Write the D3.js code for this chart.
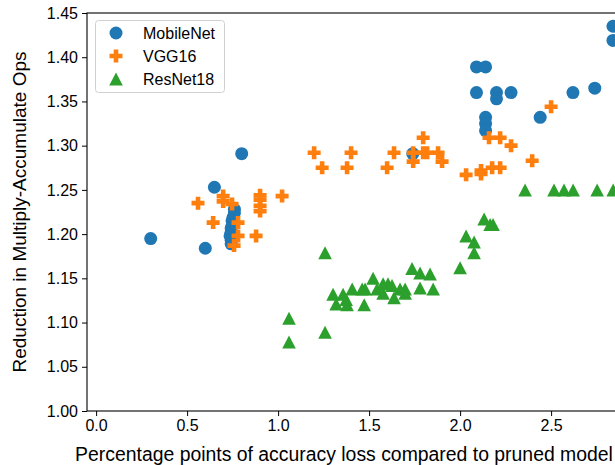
<!DOCTYPE html>
<html>
<head>
<meta charset="utf-8">
<script src="https://cdn.jsdelivr.net/npm/d3@7/dist/d3.min.js"></script>
<style>
  html, body { margin: 0; padding: 0; background: #fff; }
  svg { display: block; font-family: "Liberation Sans", Arial, sans-serif; }
</style>
</head>
<body>
<svg id="chart" width="615" height="465"></svg>
<script>
const mobileNetX = [0.30, 0.60, 0.65, 0.80, 0.76, 0.76, 0.753, 0.747, 0.742, 0.742, 0.736, 0.742, 0.742, 1.74, 2.09, 2.14, 2.09, 2.20, 2.20, 2.28, 2.14, 2.14, 2.14, 2.44, 2.62, 2.74, 2.84, 2.84];
const mobileNetY = [1.195, 1.184, 1.253, 1.291, 1.228, 1.224, 1.219, 1.215, 1.207, 1.202, 1.198, 1.193, 1.189, 1.291, 1.389, 1.389, 1.360, 1.360, 1.353, 1.360, 1.332, 1.325, 1.317, 1.332, 1.360, 1.365, 1.435, 1.419];

const vggX = [0.56, 0.698, 0.698, 0.747, 0.643, 0.78, 0.78, 0.758, 0.879, 0.901, 0.901, 0.901, 0.901, 1.022, 1.198, 1.242, 1.401, 1.379, 1.637, 1.599, 1.797, 1.742, 1.742, 1.797, 1.819, 1.879, 1.901, 2.033, 2.115, 2.115, 2.176, 2.22, 2.159, 2.22, 2.28, 2.396, 2.50];
const vggY = [1.235, 1.243, 1.237, 1.234, 1.213, 1.213, 1.198, 1.187, 1.198, 1.244, 1.239, 1.232, 1.226, 1.243, 1.292, 1.275, 1.292, 1.275, 1.292, 1.275, 1.309, 1.292, 1.282, 1.292, 1.292, 1.292, 1.282, 1.267, 1.272, 1.268, 1.275, 1.275, 1.309, 1.309, 1.300, 1.283, 1.344];

const resnetX = [1.258, 1.060, 1.060, 1.258, 1.302, 1.319, 1.357, 1.374, 1.379, 1.407, 1.462, 1.478, 1.473, 1.522, 1.544, 1.577, 1.577, 1.604, 1.626, 1.637, 1.670, 1.698, 1.698, 1.736, 1.780, 1.835, 1.780, 1.852, 2.000, 2.033, 2.077, 2.077, 2.132, 2.165, 2.181, 2.357, 2.516, 2.571, 2.621, 2.753, 2.841];
const resnetY = [1.179, 1.105, 1.078, 1.089, 1.132, 1.121, 1.132, 1.126, 1.120, 1.138, 1.138, 1.138, 1.120, 1.150, 1.138, 1.144, 1.133, 1.144, 1.142, 1.128, 1.138, 1.138, 1.133, 1.161, 1.156, 1.155, 1.139, 1.138, 1.162, 1.198, 1.191, 1.179, 1.217, 1.211, 1.211, 1.250, 1.250, 1.250, 1.250, 1.250, 1.250];

const xTicks = [0.0, 0.5, 1.0, 1.5, 2.0, 2.5];
const yTicks = [1.00, 1.05, 1.10, 1.15, 1.20, 1.25, 1.30, 1.35, 1.40, 1.45];
const seriesNames = ["MobileNet", "VGG16", "ResNet18"];
const seriesColors = ["#1f77b4", "#ff7f0e", "#2ca02c"];
const seriesShapes = ["circle", "plus", "triangle"];
const xLabel = "Percentage points of accuracy loss compared to pruned model";
const yLabel = "Reduction in Multiply-Accumulate Ops";

(function () {
const svg = d3.select("#chart");
const pLeft = 87, pTop = 13, pBottom = 411;
const x = d3.scaleLinear().domain([-0.05, 2.9]).range([pLeft, pLeft + 2.95 * 182]);
const y = d3.scaleLinear().domain([1.0, 1.45]).range([pBottom, pTop]);
const pRight = x(2.9);

svg.append("defs").append("clipPath").attr("id", "clip")
  .append("rect").attr("x", pLeft).attr("y", pTop).attr("width", pRight - pLeft).attr("height", pBottom - pTop);

function markerPath(shape) {
  if (shape === "circle") {
    const r = 6.5;
    return `M${-r},0A${r},${r} 0 1,0 ${r},0A${r},${r} 0 1,0 ${-r},0Z`;
  }
  if (shape === "plus") {
    const a = 6.5, t = 2.3;
    return `M${-t},${-a}H${t}V${-t}H${a}V${t}H${t}V${a}H${-t}V${t}H${-a}V${-t}H${-t}Z`;
  }
  const w = 6.8, h = 6.5;
  return `M0,${-h}L${w},${h}L${-w},${h}Z`;
}

const plot = svg.append("g").attr("clip-path", "url(#clip)");
const allSeries = [
  { xs: mobileNetX, ys: mobileNetY },
  { xs: vggX, ys: vggY },
  { xs: resnetX, ys: resnetY }
];
allSeries.forEach((s, i) => {
  const pts = s.xs.map((v, j) => [v, s.ys[j]]);
  plot.append("g").selectAll("path").data(pts).join("path")
    .attr("transform", d => `translate(${x(d[0])},${y(d[1])})`)
    .attr("d", markerPath(seriesShapes[i]))
    .attr("fill", seriesColors[i]);
});

const xAxis = d3.axisBottom(x).tickValues(xTicks).tickFormat(d3.format(".1f")).tickSize(5).tickPadding(4);
const yAxis = d3.axisLeft(y).tickValues(yTicks).tickFormat(d3.format(".2f")).tickSize(5).tickPadding(4);

const gx = svg.append("g").attr("transform", `translate(0,${pBottom})`).call(xAxis);
const gy = svg.append("g").attr("transform", `translate(${pLeft},0)`).call(yAxis);
[gx, gy].forEach(g => {
  g.select(".domain").remove();
  g.selectAll(".tick line").attr("stroke", "#000").attr("stroke-width", 1);
  g.selectAll(".tick text").attr("fill", "#000").style("font-size", "16px")
    .style("font-family", "'Liberation Sans', Arial, sans-serif");
});

svg.append("rect").attr("x", pLeft).attr("y", pTop).attr("width", pRight - pLeft).attr("height", pBottom - pTop)
  .attr("fill", "none").attr("stroke", "#000").attr("stroke-width", 1.1);

svg.append("text").attr("x", 344).attr("y", 461).attr("text-anchor", "middle")
  .style("font-size", "19.4px").attr("fill", "#000").text(xLabel);
svg.append("text").attr("transform", `translate(26,212) rotate(-90)`).attr("text-anchor", "middle")
  .style("font-size", "19px").attr("fill", "#000").text(yLabel);

const lg = svg.append("g");
lg.append("rect").attr("x", 95.5).attr("y", 20.5).attr("width", 129).attr("height", 72).attr("rx", 3)
  .attr("fill", "#fff").attr("fill-opacity", 0.8).attr("stroke", "#d0d0d0");
seriesNames.forEach((name, i) => {
  const cy = 33 + i * 23;
  lg.append("path").attr("transform", `translate(116,${cy})`).attr("d", markerPath(seriesShapes[i]))
    .attr("fill", seriesColors[i]);
  lg.append("text").attr("x", 143).attr("y", cy + 5.5).style("font-size", "16px").attr("fill", "#000").text(name);
});
})();
</script>
</body>
</html>
